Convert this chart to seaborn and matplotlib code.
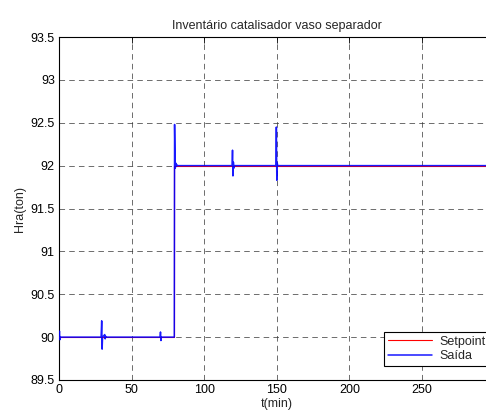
import matplotlib
matplotlib.use("Agg")
import matplotlib.pyplot as plt
import seaborn as sns
import pandas as pd
from matplotlib.ticker import FuncFormatter

title = "Inventário catalisador vaso separador"
xlabel = "t(min)"
ylabel = "Hra(ton)"
x_ticks = [0, 50, 100, 150, 200, 250]
y_ticks = [89.5, 90, 90.5, 91, 91.5, 92, 92.5, 93, 93.5]

t_set = [0, 79.5, 79.5, 300]
y_set = [90.0, 90.0, 92.0, 92.0]

t_out = [0, 0.3, 0.6, 1.0, 29.0, 29.4, 29.7, 30.0, 31.5, 31.8, 32.1, 32.5,
         69.6, 69.9, 70.2, 70.5, 79.4, 79.6, 80.0, 80.4, 80.8, 81.2, 81.6,
         119.2, 119.5, 119.8, 120.1, 120.4, 120.8,
         149.4, 149.7, 150.0, 150.3, 150.6, 300]
y_out = [90.0, 90.07, 89.97, 90.0, 90.0, 90.19, 89.86, 90.0, 90.03, 89.98, 90.01, 90.0,
         90.0, 90.06, 89.96, 90.0, 90.0, 92.48, 91.97, 92.03, 91.99, 92.01, 92.0,
         92.0, 92.18, 91.88, 92.04, 91.97, 92.0,
         92.0, 92.45, 91.83, 92.03, 92.0, 92.0]

sns.set_style("white")
plt.rcParams["font.family"] = ["Liberation Sans", "DejaVu Sans"]
plt.rcParams["font.size"] = 9

fig = plt.figure(figsize=(4.86, 4.17), dpi=100)
ax = fig.add_axes([59 / 486, 37 / 417, 435.6 / 486, 343 / 417])

df_set = pd.DataFrame({"t": t_set, "y": y_set})
df_out = pd.DataFrame({"t": t_out, "y": y_out})
sns.lineplot(data=df_set, x="t", y="y", color="red", lw=0.8, estimator=None,
             sort=False, ax=ax, label="Setpoint", zorder=3)
sns.lineplot(data=df_out, x="t", y="y", color="blue", lw=1.1, estimator=None,
             sort=False, ax=ax, label="Saída", alpha=0.9, zorder=4)

ax.set_xlim(0, 300)
ax.set_ylim(89.5, 93.5)
ax.set_xticks(x_ticks)
ax.set_yticks(y_ticks)
fmt = FuncFormatter(lambda v, p: "%g" % v)
ax.xaxis.set_major_formatter(fmt)
ax.yaxis.set_major_formatter(fmt)
ax.tick_params(direction="in", length=4, width=0.6, top=True, right=True,
               labelsize=9, colors="black", pad=3)
ax.grid(True, color="#333333", linestyle=(0, (8, 6)), linewidth=0.5)
for s in ax.spines.values():
    s.set_color("black")
    s.set_linewidth(0.8)

ax.set_title(title, fontsize=9, pad=6)
ax.set_xlabel(xlabel, fontsize=9, labelpad=1)
ax.set_ylabel(ylabel, fontsize=9, labelpad=3)

leg = ax.legend(loc="upper left", bbox_to_anchor=(384 / 486, 1 - 332 / 417),
                bbox_transform=fig.transFigure, fancybox=False, frameon=True,
                edgecolor="black", fontsize=9, handlelength=3.5,
                borderpad=0.3, labelspacing=0.2, handletextpad=0.6,
                borderaxespad=0)
leg.get_frame().set_linewidth(0.8)
leg.get_frame().set_alpha(1)

fig.savefig("out.png", dpi=100)
